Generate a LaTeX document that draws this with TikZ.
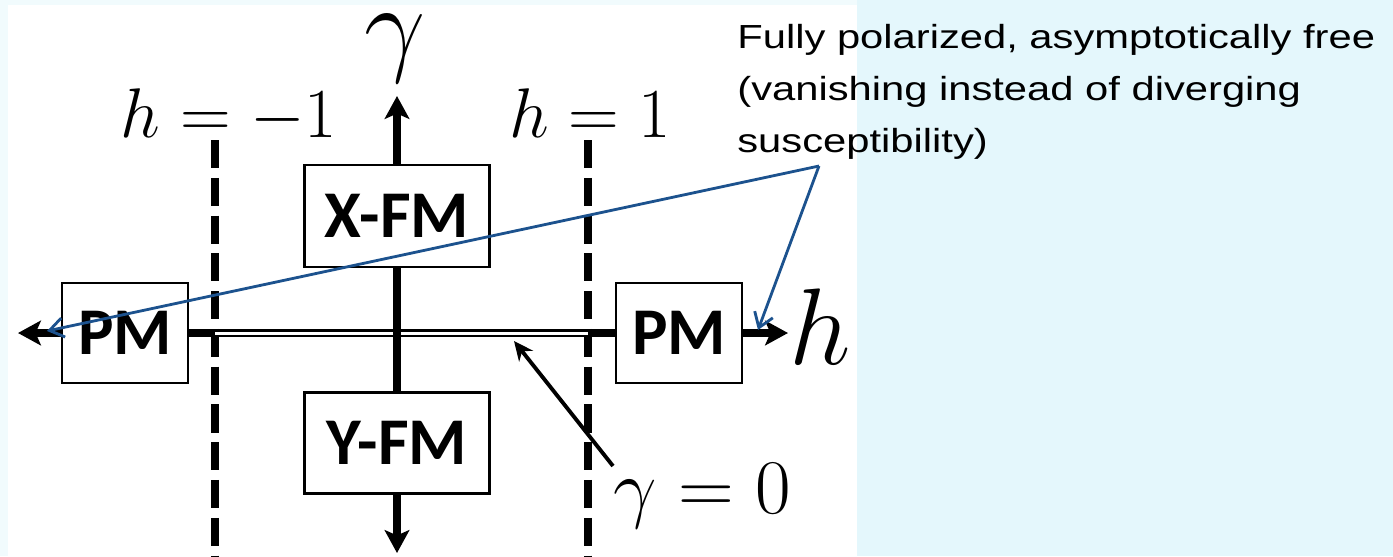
\RequirePackage{fix-cm}
\documentclass[tikz,border=0pt]{standalone}
\usepackage{fontspec}
\newfontfamily\boxfont{Carlito}
\newfontfamily\notefont{Liberation Sans}[FakeStretch=1.25]
\usepackage{xcolor}
\definecolor{noteblue}{RGB}{28,82,142}
\definecolor{paper}{RGB}{228,247,252}
\usetikzlibrary{arrows.meta,positioning}
\tikzset{
  phase/.style={draw,line width=1.3pt,inner sep=0pt,font=\boxfont\bfseries\fontsize{38}{40}\selectfont},
  axis/.style={line width=4.5pt},
  axisarrow/.style={axis,-{Stealth[length=13pt,width=14pt,inset=3pt]}},
  crit/.style={line width=4.5pt,dash pattern=on 16pt off 5.5pt},
  pointer/.style={draw=noteblue,line width=1.6pt,line join=miter,-{Straight Barb[length=8pt,width=11pt]}},
  mathlab/.style={inner sep=0pt,anchor=base,font=\fontsize{40}{44}\selectfont},
}
\begin{document}
\begin{tikzpicture}[x=0.02cm,y=-0.02cm]
\useasboundingbox (0,0) rectangle (1393,556);
\fill[paper] (857,0) rectangle (1393,556);
\fill[paper!50] (0,0) rectangle (857,5);
\fill[paper!50] (0,0) rectangle (8,556);
\node[phase,minimum width=3.7cm,minimum height=2.04cm] (xfm) at (397,216) {X-FM};
\node[phase,minimum width=3.7cm,minimum height=2.02cm] (yfm) at (397,443) {Y-FM};
\node[phase,minimum width=2.52cm,minimum height=2cm] (pml) at (125,333) {PM};
\node[phase,minimum width=2.52cm,minimum height=2cm] (pmr) at (679,333) {PM};
\coordinate (gtop) at (397,96);
\coordinate (gbot) at (397,553);
\coordinate (hleft) at (18,333);
\coordinate (hright) at (788,333);
\coordinate (cl) at (215,333);
\coordinate (cr) at (588,333);
\coordinate (cltop) at (215,140);
\coordinate (clbot) at (215,556);
\coordinate (crtop) at (588,140);
\coordinate (crbot) at (588,556);
\node[mathlab,font=\fontsize{62}{66}\selectfont] (glab) at (395,61) {$\gamma$};
\node[mathlab,anchor=base west,font=\fontsize{62}{66}\selectfont] (hlab) at (789,364) {$h$};
\node[mathlab] (hm) at (229,137) {$h=-1$};
\node[mathlab] (hp) at (590,137) {$h=1$};
\node[mathlab,font=\fontsize{44}{48}\selectfont] (gzero) at (702,513) {$\gamma=0$};
\node[font=\notefont\fontsize{19}{29.5}\selectfont,align=left,anchor=north west,inner sep=0pt] (note) at (737,24) {Fully polarized, asymptotically free\\(vanishing instead of diverging\\susceptibility)};
\draw[crit] (cltop) -- (clbot);
\draw[crit] (crtop) -- (crbot);
\draw[double,double distance=1.7pt,line width=1.7pt] (cl) -- (cr);
\draw[axis] (pml.east) -- (cl);
\draw[axis] (pmr.west) -- (cr);
\draw[axisarrow] (pml.west) -- (hleft);
\draw[axisarrow] (pmr.east) -- (hright);
\draw[axisarrow] (xfm.north) -- (gtop);
\draw[axis] (xfm.south) -- (yfm.north);
\draw[axisarrow] (yfm.south) -- (gbot);
\coordinate (gzstart) at (613,466);
\coordinate (gztip) at (514,341);
\draw[line width=2.2pt,-{Stealth[length=11pt,width=10pt]}] (gzstart) -- (gztip);
\coordinate (apex) at (819,166);
\coordinate (lfree) at (47,331);
\coordinate (rfree) at (758,330);
\draw[pointer] (apex) -- (lfree);
\draw[pointer] (apex) -- (rfree);
\end{tikzpicture}
\end{document}
